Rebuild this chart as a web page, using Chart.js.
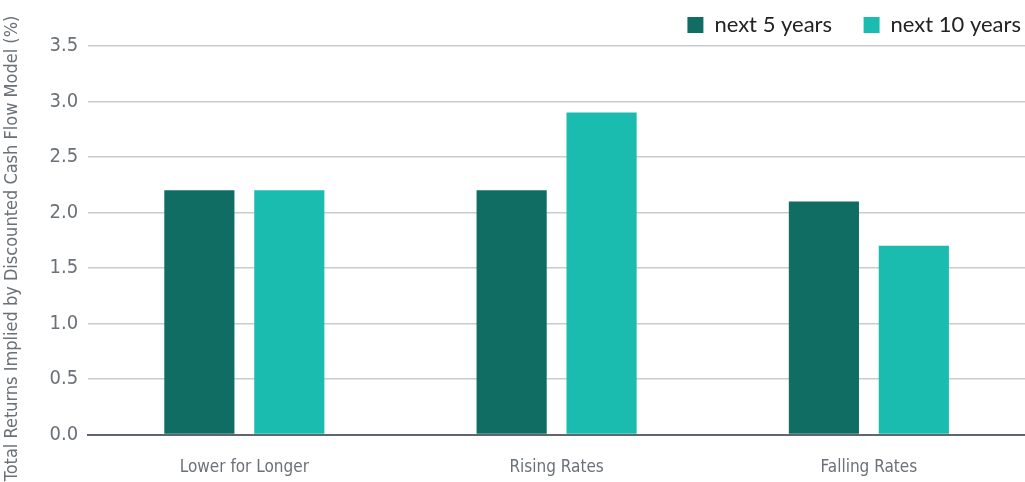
<!DOCTYPE html>
<html>
<head>
<meta charset="utf-8">
<script src="https://cdn.jsdelivr.net/npm/chart.js@4/dist/chart.umd.min.js"></script>
<style>
  html, body { margin: 0; padding: 0; background: #fff; overflow: hidden; }
  canvas { display: block; }
</style>
</head>
<body>
<canvas id="chart" width="1025" height="482"></canvas>
<script>
const categories = ['Lower for Longer', 'Rising Rates', 'Falling Rates'];
const next5 = [2.2, 2.2, 2.1];
const next10 = [2.2, 2.9, 1.7];
const seriesNames = ['next 5 years', 'next 10 years'];
const yTitle = 'Total Returns Implied by Discounted Cash Flow Model (%)';

const dark = '#0f6d64';
const light = '#1bbcb0';
const narrow = "'DejaVu Sans Condensed', 'Liberation Sans Narrow', 'Roboto', sans-serif";
const muted = '#6b7177';

const ctx = document.getElementById('chart').getContext('2d');
new Chart(ctx, {
  type: 'bar',
  data: {
    labels: categories,
    datasets: [
      { label: seriesNames[0], data: next5, backgroundColor: dark },
      { label: seriesNames[1], data: next10, backgroundColor: light },
    ],
  },
  options: {
    responsive: false,
    animation: false,
    layout: { padding: { left: 0, right: 0, top: 10, bottom: -19 } },
    datasets: {
      bar: { categoryPercentage: 0.576, barPercentage: 0.78 },
    },
    plugins: {
      legend: {
        position: 'top',
        align: 'end',
        labels: {
          color: '#222',
          boxWidth: 16,
          boxHeight: 16,
          padding: 4,
          font: { family: "'Lato', 'Open Sans', sans-serif", size: 22, lineHeight: 1.9 },
          // extra room after the first item, as in the original legend
          generateLabels: (chart) => {
            const items = Chart.defaults.plugins.legend.labels.generateLabels(chart);
            items.forEach((it, i) => {
              it.lineWidth = 0;
              if (i < items.length - 1) it.text = it.text + '\u2003\u2002';
            });
            return items;
          },
        },
      },
      tooltip: { enabled: false },
    },
    scales: {
      x: {
        grid: { display: false, drawTicks: false },
        border: { color: '#5f6670', width: 2 },
        ticks: { color: muted, padding: 23, font: { family: narrow, size: 17 } },
      },
      y: {
        min: 0,
        max: 3.5,
        ticks: {
          stepSize: 0.5,
          color: muted,
          padding: 10,
          font: { family: narrow, size: 20 },
          callback: (v) => v.toFixed(1),
        },
        grid: { color: '#c9cccc', lineWidth: 1.5, drawTicks: false },
        border: { display: false },
        title: {
          display: true,
          text: yTitle + '\u2003',
          color: muted,
          padding: { top: 2, bottom: 16 },
          font: { family: narrow, size: 18 },
        },
      },
    },
  },
});
</script>
</body>
</html>
